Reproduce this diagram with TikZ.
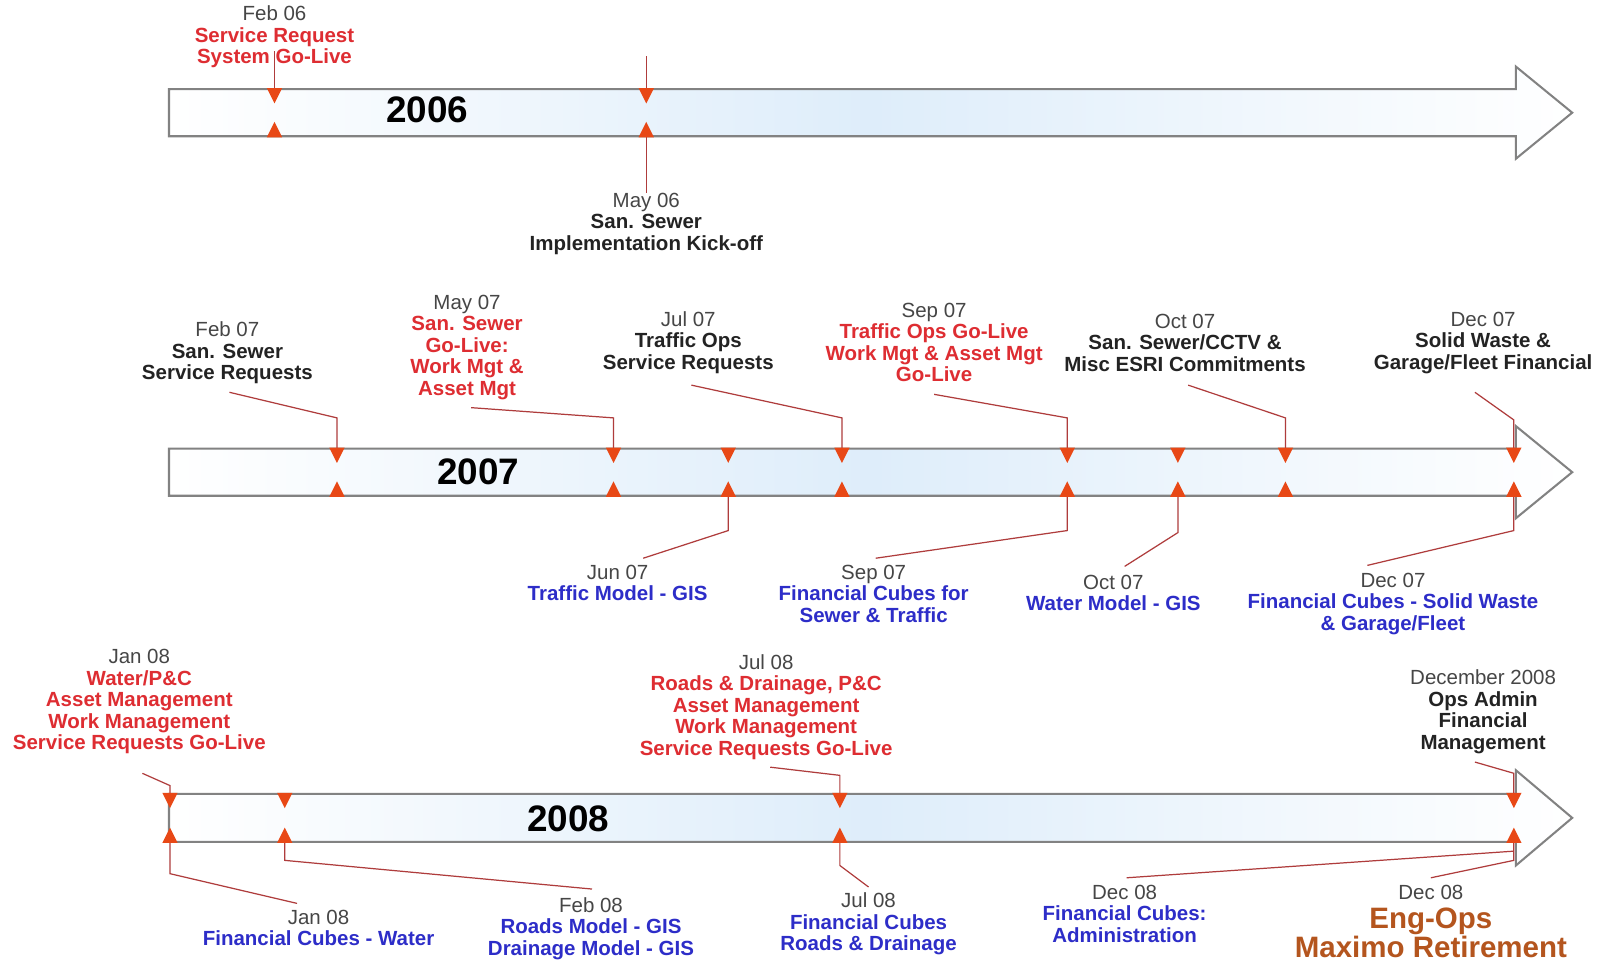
\documentclass[tikz,border=0pt]{standalone}
\usepackage{fontspec}
\setmainfont{Liberation Sans}
\definecolor{dategray}{RGB}{70,70,70}
\definecolor{redtxt}{RGB}{222,45,50}
\definecolor{bluetxt}{RGB}{45,45,200}
\definecolor{blacktxt}{RGB}{35,35,35}
\definecolor{browntxt}{RGB}{180,85,30}
\definecolor{arrowgray}{RGB}{130,130,130}
\definecolor{arrowblue}{RGB}{222,237,250}
\definecolor{mkred}{RGB}{232,72,22}
\definecolor{connred}{RGB}{175,60,60}
\newcommand\dte[1]{{\color{dategray}#1}}
\newcommand\rtx[1]{{\bfseries\color{redtxt}#1}}
\newcommand\btx[1]{{\bfseries\color{bluetxt}#1}}
\newcommand\ktx[1]{{\bfseries\color{blacktxt}#1}}
\begin{document}
\begin{tikzpicture}[x=0.5pt,y=-0.5pt,
  lab/.style={align=center, inner sep=0pt, font=\fontsize{10}{10.5}\selectfont},
  biglab/.style={align=center, inner sep=0pt, text=browntxt, font=\fontsize{14.4}{14}\selectfont\bfseries},
  conn/.style={draw=connred, line width=0.6pt},
  arrowbox/.style={draw=arrowgray, line width=1pt, left color=white, right color=white, middle color=arrowblue},
  yr/.style={inner sep=0pt, font=\fontsize{18}{20}\selectfont\bfseries, text=black},
  dmark/.pic={\fill[mkred] (-7.5,-1) -- (7.5,-1) -- (0,14) -- cycle;},
  umark/.pic={\fill[mkred] (-7.5,1) -- (7.5,1) -- (0,-14) -- cycle;}
]
\fill[white] (0,0) rectangle (1568,938);
\useasboundingbox (0,0) rectangle (1568,938);

% ---------- timeline arrows ----------
\path[arrowbox] (165,87) -- (1480,87) -- (1480,65) -- (1535,110) -- (1480,155) -- (1480,133) -- (165,133) -- cycle;
\node[yr] (y06) at (417,107) {2006};
\path[arrowbox] (165,438) -- (1480,438) -- (1480,416) -- (1535,461) -- (1480,506) -- (1480,484) -- (165,484) -- cycle;
\node[yr] (y07) at (467,461) {2007};
\path[arrowbox] (165,775) -- (1480,775) -- (1480,752) -- (1535,798.5) -- (1480,845) -- (1480,822) -- (165,822) -- cycle;
\node[yr] (y08) at (555,799) {2008};

% ---------- marker coordinates ----------
\coordinate (t6a) at (268,87);  \coordinate (b6a) at (268,133);
\coordinate (t6b) at (631,87);  \coordinate (b6b) at (631,133);
\foreach \n/\x in {a/329,b/599,c/711,d/822,e/1042,f/1150,g/1255,h/1478}{
  \coordinate (t7\n) at (\x,438); \coordinate (b7\n) at (\x,484);}
\foreach \n/\x in {a/166,b/278,c/820,d/1478}{
  \coordinate (t8\n) at (\x,775); \coordinate (b8\n) at (\x,822);}

% ---------- labels ----------
\node[lab] (f06) at (268,36) {\dte{Feb 06}\\\rtx{Service Request}\\\rtx{System Go-Live}};
\node[lab] (m06) at (631,218.5) {\dte{May 06}\\\ktx{San. Sewer}\\\ktx{Implementation Kick-off}};

\node[lab] (f07) at (222,344.5) {\dte{Feb 07}\\\ktx{San. Sewer}\\\ktx{Service Requests}};
\node[lab] (my07) at (456,339) {\dte{May 07}\\\rtx{San. Sewer}\\\rtx{Go-Live:}\\\rtx{Work Mgt \&}\\\rtx{Asset Mgt}};
\node[lab] (jl07) at (672,334.5) {\dte{Jul 07}\\\ktx{Traffic Ops}\\\ktx{Service Requests}};
\node[lab] (sp07) at (912,334.5) {\dte{Sep 07}\\\rtx{Traffic Ops Go-Live}\\\rtx{Work Mgt \& Asset Mgt}\\\rtx{Go-Live}};
\node[lab] (oc07) at (1157,334.5) {\dte{Oct 07}\\\ktx{San. Sewer/CCTV \&}\\\ktx{Misc ESRI Commitments}};
\node[lab] (dc07) at (1448,334.5) {\dte{Dec 07}\\\ktx{Solid Waste \&}\\\ktx{Garage/Fleet Financial}};

\node[lab] (jn07) at (603,569) {\dte{Jun 07}\\\btx{Traffic Model - GIS}};
\node[lab] (sq07) at (853,579.5) {\dte{Sep 07}\\\btx{Financial Cubes for}\\\btx{Sewer \& Traffic}};
\node[lab] (ow07) at (1087,579) {\dte{Oct 07}\\\btx{Water Model - GIS}};
\node[lab] (dw07) at (1360,589.5) {\dte{Dec 07}\\\btx{Financial Cubes - Solid Waste}\\\btx{\& Garage/Fleet}};

\node[lab] (ja08) at (136,685) {\dte{Jan 08}\\\rtx{Water/P\&C}\\\rtx{Asset Management}\\\rtx{Work Management}\\\rtx{Service Requests Go-Live}};
\node[lab] (jl08) at (748,690) {\dte{Jul 08}\\\rtx{Roads \& Drainage, P\&C}\\\rtx{Asset Management}\\\rtx{Work Management}\\\rtx{Service Requests Go-Live}};
\node[lab] (de08) at (1448,695) {\dte{December 2008}\\\ktx{Ops Admin}\\\ktx{Financial}\\\ktx{Management}};

\node[lab] (jc08) at (311,906) {\dte{Jan 08}\\\btx{Financial Cubes - Water}};
\node[lab] (fe08) at (577,906.5) {\dte{Feb 08}\\\btx{Roads Model - GIS}\\\btx{Drainage Model - GIS}};
\node[lab] (jr08) at (848,902) {\dte{Jul 08}\\\btx{Financial Cubes}\\\btx{Roads \& Drainage}};
\node[lab] (da08) at (1098,892) {\dte{Dec 08}\\\btx{Financial Cubes:}\\\btx{Administration}};
\node[lab] (dm08) at (1397,871) {\dte{Dec 08}};
\node[biglab] (mx08) at (1397,911) {Eng-Ops\\Maximo Retirement};

% ---------- connector end points ----------
\coordinate (s6a) at (268,50);
\coordinate (s6b) at (631,55);
\coordinate (s7a) at (224,383);
\coordinate (s7b) at (460,398);
\coordinate (s7d) at (675,376);
\coordinate (s7e) at (912,385);
\coordinate (s7g) at (1160,376);
\coordinate (s7h) at (1440,383);
\coordinate (e7c) at (628,545);
\coordinate (e7e) at (855,545);
\coordinate (e7f) at (1098,553);
\coordinate (e7h) at (1335,552);
\coordinate (s8a) at (139,755);
\coordinate (s8c) at (752,749);
\coordinate (s8d) at (1440,744);
\coordinate (e8a) at (290,882);
\coordinate (e8b) at (578,868);
\coordinate (e8c) at (848,866);
\coordinate (e8d) at (1100,857);
\coordinate (e8e) at (1397,857);

% ---------- connectors ----------
\draw[conn] (s6a) -- (t6a);
\draw[conn] (s6b) -- (t6b);
\draw[conn] (b6b) -- (m06.north);

\draw[conn] (s7a) -- ([yshift=15pt]t7a) -- (t7a);
\draw[conn] (s7b) -- ([yshift=15pt]t7b) -- (t7b);
\draw[conn] (s7d) -- ([yshift=15pt]t7d) -- (t7d);
\draw[conn] (s7e) -- ([yshift=15pt]t7e) -- (t7e);
\draw[conn] (s7g) -- ([yshift=15pt]t7g) -- (t7g);
\draw[conn] (s7h) -- ([yshift=14pt]t7h) -- (t7h);
\draw[conn] (b7c) -- ([yshift=-17pt]b7c) -- (e7c);
\draw[conn] (b7e) -- ([yshift=-17pt]b7e) -- (e7e);
\draw[conn] (b7f) -- ([yshift=-18pt]b7f) -- (e7f);
\draw[conn] (b7h) -- ([yshift=-17pt]b7h) -- (e7h);

\draw[conn] (s8a) -- ([yshift=4pt]t8a) -- (t8a);
\draw[conn] (s8c) -- ([yshift=9pt]t8c) -- (t8c);
\draw[conn] (s8d) -- ([yshift=10pt]t8d) -- (t8d);
\draw[conn] (b8a) -- ([yshift=-15.5pt]b8a) -- (e8a);
\draw[conn] (b8b) -- ([yshift=-9pt]b8b) -- (e8b);
\draw[conn] (b8c) -- ([yshift=-11.5pt]b8c) -- (e8c);
\draw[conn] (b8d) -- ([yshift=-9pt]b8d) -- (e8e);
\draw[conn] ([yshift=-4.5pt]b8d) -- (e8d);

% ---------- markers ----------
\foreach \c in {t6a,t6b,t7a,t7b,t7c,t7d,t7e,t7f,t7g,t7h,t8a,t8b,t8c,t8d}{\pic at (\c) {dmark};}
\foreach \c in {b6a,b6b,b7a,b7b,b7c,b7d,b7e,b7f,b7g,b7h,b8a,b8b,b8c,b8d}{\pic at (\c) {umark};}
\end{tikzpicture}
\end{document}
